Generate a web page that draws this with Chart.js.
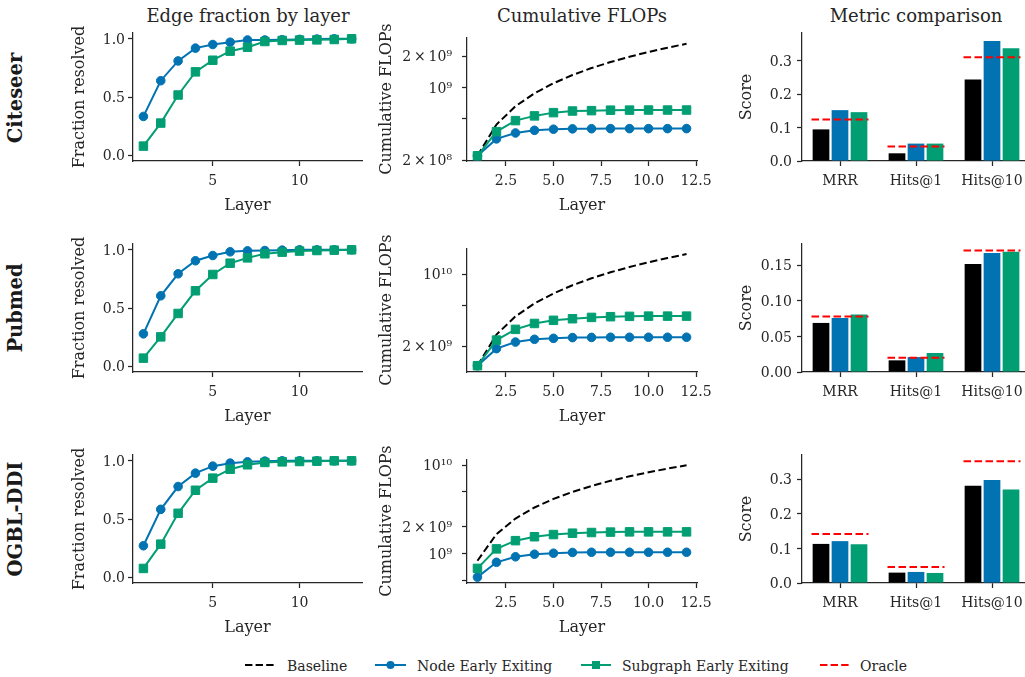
<!DOCTYPE html>
<html>
<head>
<meta charset="utf-8">
<script src="https://cdn.jsdelivr.net/npm/chart.js@4.4.1/dist/chart.umd.min.js"></script>
<style>
  html, body { margin: 0; padding: 0; overflow: hidden; background: #fff; }
  body { position: relative; width: 1025px; height: 677px; font-family: 'DejaVu Serif', serif; color: #262626; }
  canvas { position: absolute; }
  .coltitle { position: absolute; top: 7px; font-size: 18px; line-height: 18px; white-space: nowrap; transform: translateX(-50%); }
  .rowlabel { position: absolute; font-size: 19.5px; font-weight: bold; white-space: nowrap; line-height: 20px;
              transform: translate(-50%, -50%) rotate(-90deg); color: #1a1a1a; }
  .legtext { position: absolute; top: 657px; font-size: 14px; line-height: 18px; white-space: nowrap; }
  .leghandle { position: absolute; top: 659px; }
</style>
</head>
<body>

<div class="coltitle" style="left:248px">Edge fraction by layer</div>
<div class="coltitle" style="left:582px">Cumulative FLOPs</div>
<div class="coltitle" style="left:916px">Metric comparison</div>

<div class="rowlabel" style="left:16px; top:98px">Citeseer</div>
<div class="rowlabel" style="left:16px; top:308px">Pubmed</div>
<div class="rowlabel" style="left:16px; top:519px">OGBL-DDI</div>

<svg class="leghandle" style="left:245px" width="32" height="12"><line x1="0" y1="6" x2="30" y2="6" stroke="#000" stroke-width="2" stroke-dasharray="7.4,3.2"/></svg>
<span class="legtext" style="left:287px">Baseline</span>
<svg class="leghandle" style="left:375px" width="32" height="12"><line x1="0" y1="6" x2="31" y2="6" stroke="#0173b2" stroke-width="2"/><circle cx="15.5" cy="6" r="4" fill="#0173b2"/></svg>
<span class="legtext" style="left:417px">Node Early Exiting</span>
<svg class="leghandle" style="left:581px" width="32" height="12"><line x1="0" y1="6" x2="30" y2="6" stroke="#029e73" stroke-width="2"/><rect x="11" y="2" width="8" height="8" fill="#029e73"/></svg>
<span class="legtext" style="left:622px">Subgraph Early Exiting</span>
<svg class="leghandle" style="left:820px" width="32" height="12"><line x1="0" y1="6" x2="30" y2="6" stroke="#ff0000" stroke-width="2" stroke-dasharray="7.4,3.2"/></svg>
<span class="legtext" style="left:860px">Oracle</span>

<script>
// ---- data ----
const rowNames = ['Citeseer', 'Pubmed', 'OGBL-DDI'];
const layers = [1, 2, 3, 4, 5, 6, 7, 8, 9, 10, 11, 12, 13];
const flopLayers = [1, 2, 3, 4, 5, 6, 7, 8, 9, 10, 11, 12];
const metrics = ['MRR', 'Hits@1', 'Hits@10'];

// fraction of edges resolved per layer
const citeseerNodeFrac = [0.333, 0.64, 0.81, 0.92, 0.951, 0.971, 0.99, 0.99, 0.992, 0.995, 0.998, 1.0, 1.0];
const citeseerSubFrac  = [0.078, 0.276, 0.517, 0.716, 0.816, 0.894, 0.928, 0.977, 0.986, 0.989, 0.991, 0.994, 1.0];
const pubmedNodeFrac   = [0.278, 0.605, 0.794, 0.906, 0.951, 0.983, 0.991, 0.994, 0.997, 1.0, 1.0, 1.0, 1.0];
const pubmedSubFrac    = [0.069, 0.252, 0.453, 0.648, 0.788, 0.885, 0.931, 0.966, 0.98, 0.989, 0.994, 0.997, 1.0];
const ddiNodeFrac      = [0.27, 0.583, 0.779, 0.894, 0.954, 0.98, 0.991, 0.997, 1.0, 1.0, 1.0, 1.0, 1.0];
const ddiSubFrac       = [0.075, 0.284, 0.549, 0.747, 0.851, 0.928, 0.966, 0.986, 0.991, 0.994, 0.997, 1.0, 1.0];

// cumulative FLOPs per layer
const citeseerBaseFlops = [2.2e8, 4.4e8, 6.6e8, 8.8e8, 1.1e9, 1.32e9, 1.54e9, 1.76e9, 1.98e9, 2.2e9, 2.42e9, 2.64e9];
const citeseerNodeFlops = [2.2e8, 3.2e8, 3.65e8, 3.87e8, 3.97e8, 4.0e8, 4.01e8, 4.02e8, 4.02e8, 4.02e8, 4.02e8, 4.02e8];
const citeseerSubFlops  = [2.2e8, 3.76e8, 4.8e8, 5.33e8, 5.73e8, 5.94e8, 5.99e8, 6.05e8, 6.06e8, 6.07e8, 6.07e8, 6.07e8];
const pubmedBaseFlops   = [1.3e9, 2.6e9, 3.9e9, 5.2e9, 6.5e9, 7.8e9, 9.1e9, 1.04e10, 1.17e10, 1.3e10, 1.43e10, 1.56e10];
const pubmedNodeFlops   = [1.3e9, 1.9e9, 2.2e9, 2.34e9, 2.39e9, 2.43e9, 2.44e9, 2.45e9, 2.45e9, 2.45e9, 2.45e9, 2.45e9];
const pubmedSubFlops    = [1.3e9, 2.3e9, 2.92e9, 3.33e9, 3.57e9, 3.7e9, 3.81e9, 3.87e9, 3.9e9, 3.92e9, 3.92e9, 3.92e9];
const ddiBaseFlops      = [8.3e8, 1.66e9, 2.49e9, 3.32e9, 4.15e9, 4.98e9, 5.81e9, 6.64e9, 7.47e9, 8.3e9, 9.13e9, 9.96e9];
const ddiNodeFlops      = [5.42e8, 7.97e8, 9.2e8, 9.84e8, 1.01e9, 1.03e9, 1.035e9, 1.035e9, 1.035e9, 1.035e9, 1.035e9, 1.035e9];
const ddiSubFlops       = [6.8e8, 1.13e9, 1.4e9, 1.55e9, 1.64e9, 1.7e9, 1.73e9, 1.75e9, 1.76e9, 1.76e9, 1.76e9, 1.76e9];

// link prediction scores: MRR, Hits@1, Hits@10
const citeseerBaseScore = [0.0945, 0.023, 0.2435];
const citeseerNodeScore = [0.152, 0.052, 0.359];
const citeseerSubScore  = [0.146, 0.052, 0.337];
const citeseerOracle    = [0.124, 0.043, 0.31];
const pubmedBaseScore   = [0.069, 0.0164, 0.152];
const pubmedNodeScore   = [0.076, 0.021, 0.1674];
const pubmedSubScore    = [0.0807, 0.0267, 0.169];
const pubmedOracle      = [0.078, 0.020, 0.171];
const ddiBaseScore      = [0.113, 0.030, 0.281];
const ddiNodeScore      = [0.121, 0.032, 0.298];
const ddiSubScore       = [0.112, 0.029, 0.270];
const ddiOracle         = [0.142, 0.046, 0.352];

// tick labels
const fracTicksY = [0, 0.5, 1.0];
const fracTicksX = [5, 10];
const flopTicksX = [2.5, 5, 7.5, 10, 12.5];
const flopTickValues = [[2e8, 5e8, 1e9, 2e9], [2e9, 5e9, 1e10], [5e8, 1e9, 2e9, 5e9, 1e10]];
const flopTickLabels = [['2\u2009×\u200910⁸', '', '10⁹', '2\u2009×\u200910⁹'],
                        ['2\u2009×\u200910⁹', '', '10¹⁰'],
                        ['', '10⁹', '2\u2009×\u200910⁹', '', '10¹⁰']];
const scoreTicks = [[0, 0.1, 0.2, 0.3], [0, 0.05, 0.10, 0.15], [0, 0.1, 0.2, 0.3]];
const scoreDecimals = [1, 2, 1];

const fracRows  = [[citeseerNodeFrac, citeseerSubFrac], [pubmedNodeFrac, pubmedSubFrac], [ddiNodeFrac, ddiSubFrac]];
const flopRows  = [[citeseerBaseFlops, citeseerNodeFlops, citeseerSubFlops],
                   [pubmedBaseFlops, pubmedNodeFlops, pubmedSubFlops],
                   [ddiBaseFlops, ddiNodeFlops, ddiSubFlops]];
const scoreRows = [[citeseerBaseScore, citeseerNodeScore, citeseerSubScore, citeseerOracle],
                   [pubmedBaseScore, pubmedNodeScore, pubmedSubScore, pubmedOracle],
                   [ddiBaseScore, ddiNodeScore, ddiSubScore, ddiOracle]];

// axis ranges
const flopRange  = [[1.96e8, 3.04e9], [1.13e9, 1.77e10], [4.65e8, 1.16e10]];
const scoreMax   = [0.3826, 0.18, 0.37];

// ---- style / layout ----
const BLUE = '#0173b2', GREEN = '#029e73', RED = '#ff0000', INK = '#262626';
Chart.defaults.font.family = "'DejaVu Serif', serif";
Chart.defaults.font.size = 14;
Chart.defaults.color = INK;

const colBoxes = [
  {left: 133, right: 362, axisW: 63, yTitleX: 80, tickPad: 3},
  {left: 467, right: 697, axisW: 90, yTitleX: 387, tickPad: 10},
  {left: 802, right: 1030, axisW: 65, yTitleX: 747, tickPad: 5}
];
const rowBoxes = [{top: 33, bottom: 161}, {top: 244, bottom: 372}, {top: 455, bottom: 583}];
const PAD_T = 14, PAD_R = 26, AXIS_H = 62, XTITLE_GAP = 45;
const TITLE_FONT = {size: 16, lineHeight: 1.2};

function makeCanvas(r, c) {
  const col = colBoxes[c], row = rowBoxes[r];
  const cv = document.createElement('canvas');
  const w = col.axisW + (col.right - col.left) + PAD_R;
  const h = PAD_T + (row.bottom - row.top) + AXIS_H;
  cv.width = w; cv.height = h;
  cv.style.left = (col.left - col.axisW) + 'px';
  cv.style.top = (row.top - PAD_T) + 'px';
  cv.style.width = w + 'px';
  cv.style.height = h + 'px';
  document.body.appendChild(cv);
  return cv;
}

function spine() {
  return {
    border: {display: true, color: INK, width: 1.25},
    grid: {display: true, drawOnChartArea: false, drawTicks: true, tickLength: 5,
           tickWidth: 1.25, tickColor: INK, color: INK, offset: false}
  };
}

function yAxis(c, text, extra) {
  const col = colBoxes[c];
  const lh = TITLE_FONT.size * TITLE_FONT.lineHeight;
  return Object.assign(spine(), {
    position: 'left',
    afterFit: s => { s.width = col.axisW; },
    title: {display: true, text, font: TITLE_FONT, padding: {top: col.yTitleX - (col.left - col.axisW) - lh / 2, bottom: 0}},
    ticks: {padding: col.tickPad, autoSkip: false, labelOffset: 1.5}
  }, extra);
}

function xAxis(text, extra) {
  const lh = TITLE_FONT.size * TITLE_FONT.lineHeight;
  const o = Object.assign(spine(), {
    position: 'bottom',
    afterFit: s => { s.height = AXIS_H; },
    ticks: {padding: 7, autoSkip: false, maxRotation: 0}
  }, extra);
  if (text) o.title = {display: true, text, font: TITLE_FONT, padding: {top: 0, bottom: AXIS_H - XTITLE_GAP - lh / 2}};
  return o;
}

function baseOpts(scales) {
  return {
    responsive: false, animation: false, devicePixelRatio: 1, events: [],
    layout: {padding: {top: PAD_T, right: PAD_R, left: 0, bottom: 0}},
    plugins: {legend: {display: false}, tooltip: {enabled: false}},
    scales
  };
}

function lineSet(label, xs, ys, color, style, extra) {
  return Object.assign({
    type: 'line', label,
    data: xs.map((x, i) => ({x, y: ys[i]})),
    borderColor: color, backgroundColor: color, borderWidth: 2,
    pointStyle: style, pointRadius: style === 'rect' ? 6 : 4.3,
    pointBorderWidth: 1, pointBorderColor: color, pointBackgroundColor: color,
    tension: 0, clip: false
  }, extra);
}

// ---- column 1: edge fraction ----
fracRows.forEach(([node, sub], r) => {
  const opts = baseOpts({
    x: xAxis('Layer', {type: 'linear', min: 0.4, max: 13.6,
      afterBuildTicks: s => { s.ticks = fracTicksX.map(v => ({value: v})); }}),
    y: yAxis(0, 'Fraction resolved', {type: 'linear', min: -0.05, max: 1.05,
      afterBuildTicks: s => { s.ticks = fracTicksY.map(v => ({value: v})); }})
  });
  opts.scales.y.ticks.callback = v => v.toFixed(1);
  new Chart(makeCanvas(r, 0), {
    type: 'line',
    data: {datasets: [
      lineSet('Node Early Exiting', layers, node, BLUE, 'circle', {order: 2}),
      lineSet('Subgraph Early Exiting', layers, sub, GREEN, 'rect', {order: 1})
    ]},
    options: opts
  });
});

// ---- column 2: cumulative FLOPs ----
flopRows.forEach(([base, node, sub], r) => {
  const opts = baseOpts({
    x: xAxis('Layer', {type: 'linear', min: 0.45, max: 12.55,
      afterBuildTicks: s => { s.ticks = flopTicksX.map(v => ({value: v})); }}),
    y: yAxis(1, 'Cumulative FLOPs', {type: 'logarithmic', min: flopRange[r][0], max: flopRange[r][1],
      afterBuildTicks: s => { s.ticks = flopTickValues[r].map(v => ({value: v})); }})
  });
  opts.scales.x.ticks.callback = v => v.toFixed(1);
  opts.scales.y.ticks.callback = (v, i) => flopTickLabels[r][i];
  new Chart(makeCanvas(r, 1), {
    type: 'line',
    data: {datasets: [
      lineSet('Baseline', flopLayers, base, '#000000', 'circle', {order: 3, pointRadius: 0, borderDash: [7.5, 3.5]}),
      lineSet('Node Early Exiting', flopLayers, node, BLUE, 'circle', {order: 2}),
      lineSet('Subgraph Early Exiting', flopLayers, sub, GREEN, 'rect', {order: 1})
    ]},
    options: opts
  });
});

// ---- column 3: metric comparison ----
scoreRows.forEach(([base, node, sub, oracle], r) => {
  const bar = (label, data, color, stack) => ({type: 'bar', label, stack, backgroundColor: color,
    data: data.map((y, i) => ({x: i, y})),
    categoryPercentage: 0.75, barPercentage: 0.88, borderWidth: 0});
  // oracle drawn as a short dashed segment across each metric group
  const oraclePts = metrics.flatMap((m, i) => [
    {x: i - 0.375, y: oracle[i]}, {x: i + 0.375, y: oracle[i]}, {x: i + 0.5, y: null}]);
  const opts = baseOpts({
    x: xAxis(null, {type: 'linear', offset: false, min: -0.5, max: 2.5,
      afterBuildTicks: s => { s.ticks = metrics.map((m, i) => ({value: i})); }}),
    y: yAxis(2, 'Score', {type: 'linear', min: 0, max: scoreMax[r],
      afterBuildTicks: s => { s.ticks = scoreTicks[r].map(v => ({value: v})); }})
  });
  opts.scales.x.ticks.callback = (v, i) => metrics[i];
  opts.scales.y.ticks.callback = v => v.toFixed(scoreDecimals[r]);
  new Chart(makeCanvas(r, 2), {
    type: 'bar',
    data: {datasets: [
      bar('Baseline', base, '#000000', 'base'),
      bar('Node Early Exiting', node, BLUE, 'node'),
      bar('Subgraph Early Exiting', sub, GREEN, 'sub'),
      {type: 'line', label: 'Oracle', data: oraclePts,
       borderColor: RED, borderWidth: 2, borderDash: [7.5, 3.5], pointRadius: 0,
       spanGaps: false, order: -1, clip: false}
    ]},
    options: opts
  });
});
</script>
</body>
</html>
